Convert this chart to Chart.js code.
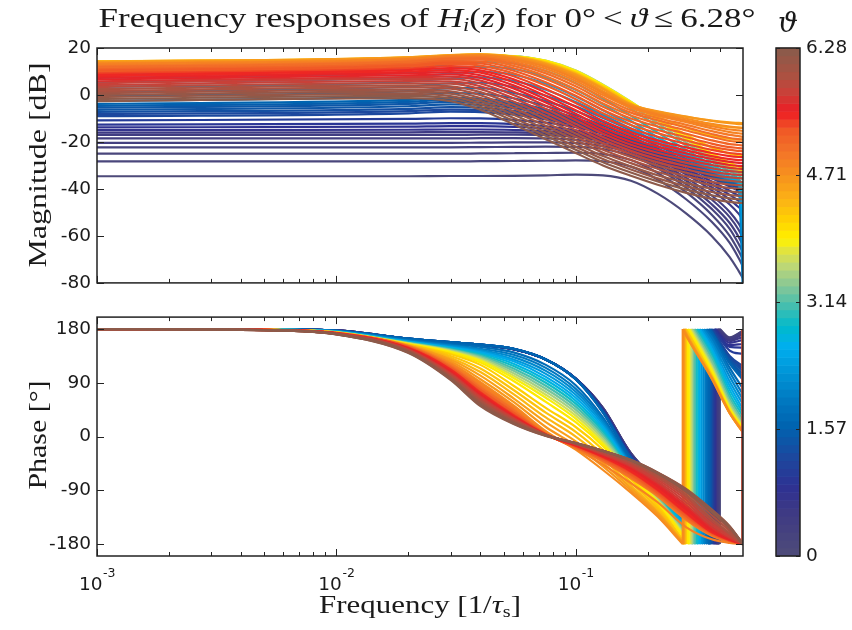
<!DOCTYPE html>
<html>
<head>
<meta charset="utf-8">
<title>Frequency responses of H_i(z)</title>
<script src="https://cdn.jsdelivr.net/npm/chart.js@4.4.1/dist/chart.umd.min.js"></script>
<style>
  html, body { margin:0; padding:0; background:#ffffff; }
  #fig { position:relative; width:852px; height:630px; overflow:hidden; background:#ffffff; }
  #fig canvas { position:absolute; }
  .lbl { position:absolute; font-family:"Liberation Serif","DejaVu Serif",serif; color:#1a1a1a; white-space:nowrap; line-height:1; }
</style>
</head>
<body>
<div id="fig">
  <canvas id="magChart" width="760" height="300" style="left:0;top:0;width:760px;height:300px"></canvas>
  <canvas id="phaseChart" width="760" height="300" style="left:0;top:300px;width:760px;height:300px"></canvas>
  <canvas id="cbarChart" width="92" height="630" style="left:760px;top:0;width:92px;height:630px"></canvas>
  <div class="lbl" style="left:427px;top:19px;font-size:28px;transform:translate(-50%,-50%) scaleX(1.25);">Frequency responses of <i>H</i><sub style="font-size:18px;font-style:italic;vertical-align:-4px">i</sub>(<i>z</i>) for 0°&#8201;&lt;&#8201;<i>ϑ</i>&#8201;≤&#8201;6.28°</div>
  <div class="lbl" style="left:788px;top:23px;font-size:28px;font-family:'DejaVu Serif',serif;font-style:italic;transform:translate(-50%,-50%);">ϑ</div>
  <div class="lbl" style="left:38px;top:165px;font-size:26px;transform:translate(-50%,-50%) rotate(-90deg) scaleX(1.23);">Magnitude [dB]</div>
  <div class="lbl" style="left:38px;top:435px;font-size:26px;transform:translate(-50%,-50%) rotate(-90deg) scaleX(1.15);">Phase [°]</div>
  <div class="lbl" style="left:420px;top:606px;font-size:26px;transform:translate(-50%,-50%) scaleX(1.19);">Frequency [1/<i>τ</i><sub style="font-size:17px;vertical-align:-4px">s</sub>]</div>
</div>
<script>
// ---------------- data ----------------
const theta = [0.063,0.126,0.188,0.251,0.314,0.377,0.440,
  0.565,0.691,0.816,0.942,1.068,
  1.193,1.256,1.319,1.382,1.444,1.507,1.570,
  1.758,1.947,2.135,2.324,
  2.512,2.700,2.889,3.077,3.266,
  3.454,3.642,3.831,4.019,
  4.145,4.270,4.396,4.522,4.647,4.773,
  4.836,4.898,4.961,5.024,5.087,5.150,5.212,5.275,5.338,5.401,5.464,5.526,
  5.589,5.652,5.715,5.778,5.840,5.903,5.966,6.029,6.092,6.154,6.217,6.280];

const freqMag = [0.001,0.02,0.03,0.04,0.055,0.075,0.1,0.13,0.17,0.22,0.29,0.37,0.44,0.48,0.5];

const magDb = [
 [-34.6,-34.6,-34.5,-34.5,-34.4,-34.2,-33.9,-34.2,-36.5,-42,-50.5,-60,-69,-75,-78],
 [-28.3,-28.3,-28.3,-28.2,-28.1,-28,-27.8,-28.2,-30.5,-36,-44.5,-54,-63,-69.5,-73],
 [-25,-25,-25,-24.9,-24.8,-24.7,-24.6,-25.2,-27.7,-33.2,-41.5,-51,-60,-66.5,-70],
 [-22.3,-22.3,-22.3,-22.2,-22.1,-22,-22.1,-23,-25.8,-31.2,-39.5,-48.5,-57,-63.5,-67],
 [-20.4,-20.4,-20.4,-20.3,-20.2,-20.2,-20.5,-21.8,-24.8,-30.2,-38,-46.5,-54.5,-60.5,-64],
 [-18.5,-18.5,-18.5,-18.4,-18.4,-18.5,-19.1,-20.7,-23.9,-29.2,-36.5,-44.5,-52,-57.5,-61],
 [-17,-17,-17,-16.9,-16.9,-17.1,-17.9,-19.8,-23.2,-28.4,-35.3,-42.8,-49.8,-54.8,-58],
 [-16,-15.9,-15.8,-15.8,-15.9,-16.3,-17.3,-19.3,-22.7,-27.6,-33.9,-40.6,-46.6,-50.6,-53],
 [-15,-14.8,-14.7,-14.7,-14.9,-15.4,-16.6,-18.8,-22.3,-27.1,-33,-39.2,-44.5,-47.8,-49.5],
 [-13.8,-13.5,-13.3,-13.3,-13.6,-14.3,-15.8,-18.1,-21.7,-26.5,-32.2,-38,-42.5,-45,-46],
 [-12.6,-12.2,-12,-12,-12.4,-13.3,-15,-17.5,-21.2,-26,-31.5,-36.8,-40.8,-43,-44],
 [-10.8,-10.2,-9.9,-10,-10.6,-11.8,-13.7,-16.5,-20.4,-25.2,-30.5,-35.5,-39,-41,-43],
 [-9,-7.8,-7.1,-7.3,-8.4,-10.4,-13,-16.4,-20.5,-25.2,-30.2,-35,-38.4,-40.2,-46],
 [-8.1,-6.9,-6.2,-6.4,-7.5,-9.6,-12.3,-15.8,-20,-24.8,-29.9,-34.7,-38.1,-39.9,-48],
 [-7.2,-5.9,-5.2,-5.4,-6.7,-8.9,-11.8,-15.5,-19.8,-24.6,-29.7,-34.5,-37.9,-39.7,-49],
 [-6.3,-4.8,-4,-4.2,-5.6,-8.1,-11.2,-15,-19.4,-24.2,-29.4,-34.3,-37.7,-39.5,-50],
 [-5.4,-3.8,-2.9,-3.2,-4.7,-7.3,-10.6,-14.6,-19.1,-23.9,-29.1,-34,-37.5,-39.3,-52],
 [-4.6,-2.9,-2,-2.3,-3.9,-6.7,-10.2,-14.3,-18.9,-23.7,-28.9,-33.8,-37.3,-39.1,-54],
 [-3.8,-2.1,-1.2,-1.5,-3.2,-6.1,-9.8,-14,-18.7,-23.5,-28.7,-33.6,-37.1,-38.9,-56],
 [-2.5,-0.4,0.8,0.6,-1.4,-4.7,-8.6,-13,-17.8,-22.8,-28.1,-33.1,-36.8,-38.6,-66],
 [-0.5,1.6,2.9,2.9,0.9,-2.6,-6.8,-11.5,-16.5,-21.7,-27.2,-32.5,-36.4,-38.5,-85],
 [1.5,3.6,5,5.2,3.4,-0.3,-4.8,-9.8,-15.1,-20.6,-26.4,-32,-36,-38.2,-72],
 [3.5,5.6,7.1,7.5,6,2.2,-3,-8.5,-14.3,-20.2,-26,-31.7,-35.7,-37.8,-58],
 [5.5,7.6,9.2,9.8,8.6,4.8,-0.6,-6.5,-12.8,-19.2,-25.4,-31.3,-35.4,-37.3,-49],
 [7.3,9.5,11.2,12,11.1,7.5,2.2,-4,-11,-18,-24.6,-30.6,-34.7,-36.6,-43],
 [9,11.2,13,14,13.5,10.2,5,-1.5,-8.8,-16,-23.4,-29.7,-33.7,-35.6,-39],
 [10.5,12.6,14.5,15.6,15.4,12.6,7.5,1.2,-5.8,-13.5,-21.6,-28.4,-32.5,-34.3,-36],
 [11.7,13.8,15.6,16.6,16.5,14,9.2,3,-4.3,-12,-20.3,-27.4,-31.5,-33.3,-34.5],
 [12.6,14.5,15.9,16.7,16.6,14.5,10.4,4.4,-2.8,-10.6,-19,-26.4,-30.7,-32.6,-33.5],
 [13.3,15,16.3,16.9,16.6,14.6,10.4,4.3,-3,-10.7,-18.8,-26,-30.3,-32.2,-33],
 [13.8,15.4,16.5,17,16.5,14.5,10.2,4.2,-3,-10.6,-18.6,-25.6,-29.9,-31.8,-32.5],
 [14.1,15.6,16.6,17,16.4,14.4,10,3.9,-3.2,-10.4,-18.2,-24.8,-28.8,-30.5,-31],
 [14.2,15.8,16.8,17.1,16.3,14,9.6,3.6,-3.4,-10.2,-17,-22.3,-25,-25.8,-26],
 [14.3,15.9,16.9,17.2,16.3,13.8,9.3,3.3,-3.6,-9.3,-14,-17.3,-18.7,-19,-19],
 [14.3,16,17,17.3,16.3,13.6,9,3,-3.8,-8,-10.9,-12.9,-13.7,-13.9,-14],
 [14.2,16,17,17.3,16.2,13.4,8.8,2.8,-4,-7.2,-9.3,-10.9,-11.7,-11.9,-12],
 [14,15.9,16.9,17.2,16,13.1,8.4,2.5,-4.1,-7,-9.2,-11,-12,-12.4,-12.5],
 [13.5,15.5,16.7,17,15.6,12.5,7.6,1.6,-4.5,-7.7,-10.1,-12.3,-13.5,-13.9,-14],
 [13.2,15.3,16.5,16.8,15.2,11.9,6.8,0.8,-5,-8.3,-10.9,-13.3,-14.7,-15.1,-15.3],
 [12.8,15,16.3,16.6,14.8,11.2,6,0,-5.5,-8.8,-11.6,-14.2,-15.8,-16.3,-16.5],
 [12.4,14.6,15.9,16.1,14.1,10.2,4.9,-1.1,-6.5,-9.8,-12.7,-15.4,-17,-17.5,-17.8],
 [11.9,14.2,15.5,15.6,13.3,9.2,3.7,-2.3,-7.5,-10.8,-13.8,-16.6,-18.3,-18.8,-19],
 [11.4,13.7,15,15,12.4,8,2.4,-3.6,-8.7,-12.1,-15.1,-17.9,-19.6,-20,-20.2],
 [10.9,13.2,14.4,14.2,11.4,6.8,1.1,-5,-10,-13.4,-16.5,-19.3,-20.9,-21.3,-21.5],
 [10.4,12.6,13.8,13.4,10.3,5.4,-0.3,-6.4,-11.4,-14.9,-18,-20.7,-22.2,-22.6,-22.8],
 [9.8,12,13.1,12.5,9.2,4,-1.8,-7.8,-12.8,-16.3,-19.4,-22,-23.4,-23.8,-24],
 [9.2,11.3,12.3,11.5,8,2.5,-3.4,-9.4,-14.3,-17.8,-20.9,-23.4,-24.7,-25.1,-25.3],
 [8.6,10.6,11.4,10.5,6.7,1,-5,-11,-15.8,-19.3,-22.3,-24.7,-26,-26.4,-26.5],
 [8,9.9,10.6,9.5,5.4,-0.4,-6.5,-12.4,-17.2,-20.7,-23.6,-26,-27.3,-27.7,-27.8],
 [7.3,9.2,9.7,8.4,4.1,-1.8,-8,-13.8,-18.5,-22,-24.9,-27.2,-28.5,-28.9,-29],
 [6.6,8.4,8.8,7.3,2.8,-3.2,-9.4,-15.2,-19.9,-23.3,-26.2,-28.5,-29.8,-30.2,-30.3],
 [5.8,7.6,7.8,6.1,1.4,-4.6,-10.8,-16.5,-21.2,-24.6,-27.5,-29.8,-31,-31.4,-31.5],
 [5,6.8,6.8,4.9,0,-6,-12.2,-17.9,-22.5,-26,-28.9,-31.2,-32.4,-32.7,-32.8],
 [4.2,5.9,5.8,3.7,-1.4,-7.5,-13.6,-19.2,-23.8,-27.3,-30.3,-32.6,-33.7,-34,-34],
 [3.4,5,4.8,2.5,-2.8,-8.9,-15,-20.6,-25.1,-28.7,-31.7,-34,-35.1,-35.4,-35.5],
 [2.5,4.1,3.7,1.2,-4.2,-10.3,-16.4,-21.9,-26.4,-30,-33.1,-35.5,-36.6,-36.9,-37],
 [1.7,3.2,2.7,-0.1,-5.6,-11.8,-17.8,-23.3,-27.7,-31.4,-34.6,-37,-38.1,-38.4,-38.5],
 [0.8,2.3,1.6,-1.3,-7,-13.2,-19.2,-24.6,-29,-32.8,-36,-38.4,-39.6,-39.9,-40],
 [0,1.4,0.6,-2.5,-8.4,-14.6,-20.6,-26,-30.4,-34.2,-37.5,-39.9,-41.1,-41.4,-41.5],
 [-0.9,0.5,-0.5,-3.8,-9.8,-16,-22,-27.3,-31.7,-35.5,-38.9,-41.3,-42.6,-42.9,-43],
 [-1.7,-0.4,-1.5,-5,-11.1,-17.4,-23.3,-28.6,-33,-36.8,-40.3,-42.7,-44,-44.4,-44.5],
 [-2.6,-1.3,-2.6,-6.3,-12.5,-18.8,-24.7,-30,-34.4,-38.2,-41.7,-44.2,-45.5,-45.9,-46]
];

const freqPhase = [0.001,0.005,0.01,0.02,0.03,0.04,0.055,0.075,0.1,0.13,0.17,0.22,0.29,0.37,0.44,0.5];

// phase as displayed (wrapped into [-180, 180]); values after the wrap frequency belong to the post-jump branch
const phaseDeg = [
 [180,179.6,177.8,163.5,157.5,153.5,146.5,129,97,48,-28,-76,-125,-170,-177,-180],
 [180,179.6,177.8,163.5,157.5,153.5,146.5,129,97,48,-28,-76,-124,-167,166,177],
 [180,179.6,177.8,163.5,157.5,153.5,146.5,129,97,48,-28,-76,-124,-167,165,177],
 [180,179.6,177.8,163.5,157.5,153.5,146.5,129,97,47,-29,-77,-125,-168,165,176],
 [180,179.6,177.7,163.4,157.4,153.4,146.4,129,97,47,-29,-77,-125,-168,164,175],
 [180,179.5,177.7,163.4,157.4,153.4,146.4,129,97,46,-30,-78,-126,-169,163,173],
 [180,179.5,177.6,163.3,157.3,153.3,146.3,129,97,46,-30,-78,-126,-170,162,171],
 [180,179.5,177.5,163.3,157.3,153.3,146.3,129,97,45,-31,-79,-127,-171,160,167],
 [180,179.5,177.4,163.2,157.2,153.2,146.2,129,96.5,45,-31,-79,-128,-172,157,162],
 [180,179.5,177.3,163.2,157.2,153.2,146.2,129,96.5,44,-32,-80,-128,-173,153,155],
 [180,179.5,177.3,163.1,157.1,153.1,146.1,129,96.5,44,-32,-80,-128,-173,150,149],
 [180,179.4,177.2,163.2,157.2,153.2,146.2,129,96.5,43.5,-33,-80,-129,-174,144,138],
 [180,179.4,177.1,164,158,154,147,129.5,96.5,43,-34,-81,-131,-175,135,118],
 [180,179.4,177.1,164,158,154,147,129.5,96.5,42.5,-34.5,-81.5,-132,-177,133,114],
 [180,179.4,177,164,158,154,147,129,96,42,-35,-82,-133,178,130,110],
 [180,179.4,177,164,158,154,147,129,96,42,-36,-83,-134,177,128,105],
 [180,179.4,177,164,158,154,147,129,96,41,-37,-84,-135,176,126,101],
 [180,179.4,177,164,158,154,147,129,96,40.5,-37.5,-84.5,-136,175,124,98],
 [180,179.4,177,164,158,154,147,129,96,40,-38,-85,-137,174,122,95],
 [180,179.3,176.5,162,155,150,141,120,86,32,-42,-87,-140,170,115,80],
 [180,179.2,176.2,161,153,147,137,115,80,28,-45,-89,-143,166,108,70],
 [180,179.2,176,160,152,145,133,110,75,24,-47,-91,-146,160,100,62],
 [180,179.1,175.8,159,150,143,129,105,70,20,-49,-93,-149,154,92,54],
 [180,179.1,175.6,158.5,149,141,126,100,65,16,-51,-95,-152,148,85,46],
 [180,179,175.4,158,148,139,122,95,60,12,-53,-97,-155,143,78,40],
 [180,179,175.2,157.5,147,137,118,90,55,8,-55,-99,-158,137,71,34],
 [180,179,175,157,146,135,114,85,50,4,-57,-101,-161,132,65,28],
 [180,179,174.8,156.5,145,133,110,80,45,0,-59,-103,-164,126,59,23],
 [180,178.9,174.6,156,144,131,106,75,40,-4,-61,-105,-167,120,54,19],
 [180,178.9,174.4,155.5,143,129,102,70,35,-8,-63,-107,-170,116,50,16],
 [180,178.8,174.2,155,142,127,98,65,30,-12,-65,-109,-173,112,47,14],
 [180,178.8,174,154.5,140,124,93,58,24,-16,-68,-112,-176,107,44,12],
 [180,178.8,174,154,138,120,85,48,16,-22,-72,-116,179,103,42,10],
 [180,178.8,174,153.5,135,114,78,40,8,-30,-77,-120,177,101,41,9],
 [180,178.7,174,153,132,108,71,32,0,-37,-82,-124,174,100,40,8],
 [180,178.7,173.8,152.5,129,102,64,24,-8,-44,-86,-127,172,99,40,8],
 [180,178.7,173.6,152,126,96,58,16,-15,-50,-90,-130,170,98,39,7],
 [180,178.7,173.5,151.5,123,91,52,9,-22,-56,-94,-134,168,97,39,7],
 [180,178.7,173.4,151.2,121.5,88.5,49.5,7,-20.5,-47,-78,-110,-152,-172,-178,-180],
 [180,178.6,173.4,151,120,86,47,5,-19,-42,-70,-100,-140,-166,-176,-180],
 [180,178.6,173.35,150.7,119,84,45.5,4.5,-18.5,-41,-68.5,-98.5,-138.5,-165,-175.5,-180],
 [180,178.6,173.3,150.5,118,82,44,4,-18,-40,-67,-97,-137,-164,-175,-180],
 [180,178.6,173.25,150.2,117,80.5,42.5,4,-17.5,-39,-65.5,-96,-135.5,-163,-174.5,-180],
 [180,178.6,173.2,150,116,79,41,4,-17,-38,-64,-95,-134,-162,-174,-180],
 [180,178.55,173.15,149.5,115,77.5,39.5,4,-16.5,-37,-62.5,-93.5,-132.5,-161.5,-174,-180],
 [180,178.5,173.1,149,114,76,38,4,-16,-36,-61,-92,-131,-161,-174,-180],
 [180,178.5,173.05,148.5,113,74.5,36.5,3.5,-15.5,-35,-59.5,-90.5,-129.5,-160.5,-173.5,-180],
 [180,178.5,173,148,112,73,35,3,-15,-34,-58,-89,-128,-160,-173,-180],
 [180,178.45,172.9,147.5,110.5,71.5,34,3,-14.5,-33,-56,-86.5,-125,-158.5,-172.5,-180],
 [180,178.4,172.8,147,109,70,33,3,-14,-32,-54,-84,-122,-157,-172,-180],
 [180,178.4,172.7,146.5,107.5,68.5,32,3,-13.5,-31,-52,-81,-118.5,-154.5,-171,-180],
 [180,178.4,172.6,146,106,67,31,3,-13,-30,-50,-78,-115,-152,-170,-180],
 [180,178.35,172.45,145.5,105,65,30,3,-12.5,-29,-48,-75,-110.5,-148.5,-168,-180],
 [180,178.3,172.3,145,104,63,29,3,-12,-28,-46,-72,-106,-145,-166,-180],
 [180,178.25,172.15,144.2,102.5,61.5,28,3,-12,-27,-44.5,-69,-102,-141,-164,-180],
 [180,178.2,172,143.5,101,60,27,3,-12,-26,-43,-66,-98,-137,-162,-180],
 [180,178.15,171.85,143,100,58.5,26,2.5,-11.5,-25,-41.5,-63.5,-94,-131.5,-158.5,-180],
 [180,178.1,171.7,142.5,99,57,25,2,-11,-24,-40,-61,-90,-126,-155,-180],
 [180,178.05,171.55,142,98,55.5,24,2,-11,-24,-39.5,-60.5,-89,-124,-152.5,-180],
 [180,178,171.4,141.5,97,54,23,2,-11,-24,-39,-60,-88,-122,-150,-180],
 [180,178,171.2,140.7,96,52.5,22,1.5,-11,-24,-39.5,-61,-90,-124,-151,-180],
 [180,178,171,140,95,51,21,1,-11,-24,-40,-62,-92,-126,-152,-180]
];

// frequency where each phase curve jumps from -180 to +180
const wrapFreq = [0.5,0.4,0.398,0.396,0.394,0.392,0.39,
  0.387,0.384,0.381,0.379,0.376,
  0.372,0.371,0.368,0.366,0.364,0.362,0.36,
  0.354,0.348,0.342,0.336,
  0.33,0.325,0.32,0.315,0.31,
  0.306,0.302,0.298,0.294,
  0.289,0.287,0.285,0.284,0.282,0.28,
  0.5,0.5,0.5,0.5,0.5,0.5,0.5,0.5,0.5,0.5,0.5,0.5,
  0.5,0.5,0.5,0.5,0.5,0.5,0.5,0.5,0.5,0.5,0.5,0.5];

const magTicks = [20,0,-20,-40,-60,-80];
const phaseTicks = [180,90,0,-90,-180];
const xMajorTicks = [0.001,0.01,0.1];
const xMajorExp = ['-3','-2','-1'];
const xMinorTicks = [0.002,0.003,0.004,0.005,0.006,0.007,0.008,0.009,0.02,0.03,0.04,0.05,0.06,0.07,0.08,0.09,0.2,0.3,0.4];
const cbTicks = [0,1.57,3.14,4.71,6.28];
const cbTickLabels = ['0','1.57','3.14','4.71','6.28'];

// ---------------- colour map ----------------
const cmapAnchors = [
 [0.00,[77,74,122]],[0.08,[62,58,132]],[0.13,[46,49,146]],[0.19,[28,72,158]],
 [0.25,[0,98,175]],[0.31,[0,124,195]],[0.37,[0,155,220]],[0.41,[0,174,239]],
 [0.45,[0,186,204]],[0.49,[64,190,176]],[0.53,[132,198,152]],[0.57,[186,214,120]],
 [0.60,[222,226,70]],[0.625,[255,242,0]],[0.66,[255,212,0]],[0.70,[252,182,20]],
 [0.75,[247,148,29]],[0.80,[243,116,40]],[0.845,[240,88,38]],[0.88,[237,28,36]],
 [0.915,[205,62,55]],[0.955,[170,82,66]],[1.00,[141,90,74]]
];
function cmapAt(t){
  for (let i=1;i<cmapAnchors.length;i++){
    const [t1,c1]=cmapAnchors[i], [t0,c0]=cmapAnchors[i-1];
    if (t<=t1){ const u=(t-t0)/(t1-t0); return 'rgb('+c0.map((v,k)=>Math.round(v+(c1[k]-v)*u)).join(',')+')'; }
  }
  const c=cmapAnchors[cmapAnchors.length-1][1]; return 'rgb('+c.join(',')+')';
}
const cmap = []; for (let k=0;k<64;k++) cmap.push(cmapAt(k/63));
function colorOf(th){ return cmap[Math.max(0,Math.min(63,Math.floor(th/6.28*64)))]; }

// ---------------- helpers ----------------
const TICK_FONT = {family:'"DejaVu Sans", "Liberation Sans", sans-serif', size:18.5};
const INK = '#1a1a1a';

function axesBox(yTicks, drawXLabels){
  return {
    id:'axesBox',
    afterDatasetsDraw(chart){
      const ctx=chart.ctx, a=chart.chartArea, xs=chart.scales.x, ys=chart.scales.y;
      ctx.save();
      ctx.strokeStyle='#222'; ctx.lineWidth=1;
      ctx.beginPath();
      xMinorTicks.forEach(v=>{ const p=Math.round(xs.getPixelForValue(v))+0.5;
        ctx.moveTo(p,a.bottom); ctx.lineTo(p,a.bottom-4); ctx.moveTo(p,a.top); ctx.lineTo(p,a.top+4); });
      xMajorTicks.forEach(v=>{ const p=Math.round(xs.getPixelForValue(v))+0.5;
        ctx.moveTo(p,a.bottom); ctx.lineTo(p,a.bottom-7); ctx.moveTo(p,a.top); ctx.lineTo(p,a.top+7); });
      yTicks.forEach(v=>{ const p=Math.round(ys.getPixelForValue(v))+0.5;
        ctx.moveTo(a.left,p); ctx.lineTo(a.left+7,p); ctx.moveTo(a.right,p); ctx.lineTo(a.right-7,p); });
      ctx.stroke();
      ctx.lineWidth=1.5;
      ctx.strokeRect(a.left, a.top, a.right-a.left, a.bottom-a.top);
      if (drawXLabels){
        ctx.fillStyle=INK; ctx.textAlign='left'; ctx.textBaseline='alphabetic';
        xMajorTicks.forEach((v,i)=>{
          const p=xs.getPixelForValue(v);
          ctx.font='18.5px "DejaVu Sans"'; const w1=ctx.measureText('10').width;
          ctx.font='12.5px "DejaVu Sans"'; const w2=ctx.measureText(xMajorExp[i]).width;
          const x0=p-(w1+w2)/2;
          ctx.font='18.5px "DejaVu Sans"'; ctx.fillText('10', x0, a.bottom+34);
          ctx.font='12.5px "DejaVu Sans"'; ctx.fillText(xMajorExp[i], x0+w1+0.5, a.bottom+21);
        });
      }
      ctx.restore();
    }
  };
}

const lineBase = { borderWidth:2.2, pointRadius:0, pointHoverRadius:0, fill:false,
                   cubicInterpolationMode:'monotone', borderJoinStyle:'round' };

function yAxis(min,max,ticks){
  return { type:'linear', min:min, max:max,
    grid:{display:false, drawTicks:false}, border:{display:false},
    afterFit:s=>{ s.width=97; },
    afterBuildTicks:s=>{ s.ticks=ticks.map(v=>({value:v})); },
    ticks:{ font:TICK_FONT, color:INK, padding:6, callback:v=>String(v) } };
}
const xAxis = { type:'logarithmic', min:0.001, max:0.5, display:false };
const baseOpts = { responsive:false, animation:false, events:[], devicePixelRatio:1,
  plugins:{ legend:{display:false}, tooltip:{enabled:false}, title:{display:false} } };

// ---------------- magnitude ----------------
const magSets = [];
for (let i=theta.length-1;i>=0;i--){
  magSets.push(Object.assign({}, lineBase, { borderColor:colorOf(theta[i]),
    data:freqMag.map((f,j)=>({x:f, y:magDb[i][j]})) }));
}
new Chart(document.getElementById('magChart'), {
  type:'line',
  data:{ datasets:magSets },
  options:Object.assign({}, baseOpts, {
    layout:{ padding:{left:0, top:48, right:17, bottom:12} },
    scales:{ x:xAxis, y:yAxis(-80,20,magTicks) }
  }),
  plugins:[axesBox(magTicks,false)]
});

// ---------------- phase ----------------
const phaseSets = [];
for (let i=theta.length-1;i>=0;i--){
  const c=colorOf(theta[i]), fw=wrapFreq[i], pre=[], post=[];
  freqPhase.forEach((f,j)=>{
    if (f<fw) pre.push({x:f, y:phaseDeg[i][j]});
    else if (f>fw) post.push({x:f, y:phaseDeg[i][j]});
  });
  pre.push({x:fw, y:-180});
  phaseSets.push(Object.assign({}, lineBase, {borderColor:c, data:pre}));
  phaseSets.push(Object.assign({}, lineBase, {borderColor:c, cubicInterpolationMode:'default', tension:0,
    data:[{x:fw,y:-180},{x:fw,y:180}]}));
  if (post.length){
    post.unshift({x:fw, y:180});
    phaseSets.push(Object.assign({}, lineBase, {borderColor:c, data:post}));
  }
}
new Chart(document.getElementById('phaseChart'), {
  type:'line',
  data:{ datasets:phaseSets },
  options:Object.assign({}, baseOpts, {
    layout:{ padding:{left:0, top:14, right:17, bottom:44} },
    scales:{ x:xAxis, y:yAxis(-200,200,phaseTicks) }
  }),
  plugins:[axesBox(phaseTicks,true)]
});

// ---------------- colour bar ----------------
const colorbarPlugin = {
  id:'colorbar',
  afterDraw(chart){
    const ctx=chart.ctx, a=chart.chartArea, ys=chart.scales.y;
    ctx.save();
    for (let k=0;k<64;k++){
      const y0=ys.getPixelForValue(k*6.28/64), y1=ys.getPixelForValue((k+1)*6.28/64);
      ctx.fillStyle=cmap[k];
      ctx.fillRect(a.left, Math.min(y0,y1)-0.3, a.right-a.left, Math.abs(y1-y0)+0.6);
    }
    ctx.strokeStyle='#222'; ctx.lineWidth=1;
    ctx.beginPath();
    cbTicks.forEach(v=>{ const p=Math.round(ys.getPixelForValue(v))+0.5;
      ctx.moveTo(a.left,p); ctx.lineTo(a.left+4,p); ctx.moveTo(a.right,p); ctx.lineTo(a.right-4,p); });
    ctx.stroke();
    ctx.lineWidth=1.5;
    ctx.strokeRect(a.left, a.top, a.right-a.left, a.bottom-a.top);
    ctx.restore();
  }
};
new Chart(document.getElementById('cbarChart'), {
  type:'line',
  data:{ datasets:[] },
  options:Object.assign({}, baseOpts, {
    layout:{ padding:{left:16, top:48, right:0, bottom:74} },
    scales:{
      x:{ type:'linear', min:0, max:1, display:false },
      y:{ type:'linear', position:'right', min:0, max:6.28,
          grid:{display:false, drawTicks:false}, border:{display:false},
          afterFit:s=>{ s.width=52; },
          afterBuildTicks:s=>{ s.ticks=cbTicks.map(v=>({value:v})); },
          ticks:{ font:TICK_FONT, color:INK, padding:6, callback:(v,i)=>cbTickLabels[i] } }
    }
  }),
  plugins:[colorbarPlugin]
});
</script>
</body>
</html>
